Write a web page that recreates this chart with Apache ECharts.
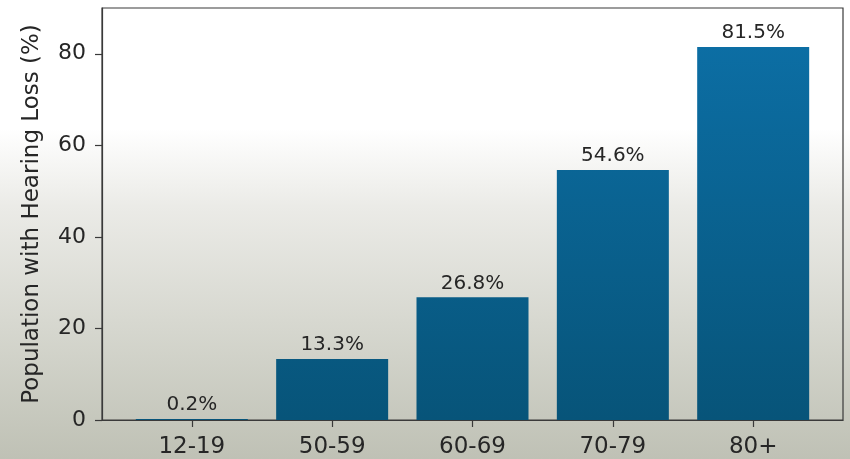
<!DOCTYPE html>
<html>
<head>
<meta charset="utf-8">
<script src="https://cdn.jsdelivr.net/npm/echarts@6/dist/echarts.min.js"></script>
<style>
html,body{margin:0;padding:0;}
#chart{width:850px;height:459px;}
</style>
</head>
<body>
<div id="chart"></div>
<script>
const categories = ['12-19', '50-59', '60-69', '70-79', '80+'];
const values = [0.2, 13.3, 26.8, 54.6, 81.5];
const yTicks = [0, 20, 40, 60, 80];
const yAxisTitle = 'Population with Hearing Loss (%)';

const chart = echarts.init(document.getElementById('chart'));
const font = 'DejaVu Sans';
const option = {
  animation: false,
  backgroundColor: new echarts.graphic.LinearGradient(0, 0, 0, 1, [
    { offset: 0, color: '#ffffff' },
    { offset: 0.28, color: '#ffffff' },
    { offset: 0.45, color: '#ebebe7' },
    { offset: 0.7, color: '#d7d8d0' },
    { offset: 1, color: '#bfc1b5' }
  ]),
  grid: {
    left: 102, right: 7, top: 8, bottom: 39,
    show: true, borderColor: '#3a3a3a', borderWidth: 1.2, backgroundColor: 'transparent'
  },
  xAxis: {
    type: 'value', min: -0.64, max: 4.64,
    splitLine: { show: false },
    axisLine: { show: true, onZero: false, lineStyle: { color: '#3a3a3a', width: 1.2 } },
    axisTick: { show: true, length: 7, customValues: categories.map((c, i) => i), lineStyle: { color: '#3a3a3a', width: 1.2 } },
    axisLabel: {
      customValues: categories.map((c, i) => i),
      formatter: v => categories[Math.round(v)],
      fontFamily: font, fontSize: 23, color: '#262626', margin: 16
    }
  },
  yAxis: {
    type: 'value', min: 0, max: 90,
    splitLine: { show: false },
    axisLine: { show: true, onZero: false, lineStyle: { color: '#3a3a3a', width: 1.2 } },
    axisTick: { show: true, length: 7, customValues: yTicks, lineStyle: { color: '#3a3a3a', width: 1.2 } },
    axisLabel: { customValues: yTicks, fontFamily: font, fontSize: 22, color: '#262626', margin: 16 },
    name: yAxisTitle, nameLocation: 'middle', nameGap: 58,
    nameTextStyle: { fontFamily: font, fontSize: 23, color: '#262626' }
  },
  series: [{
    type: 'bar',
    data: values.map((v, i) => [i, v]),
    barWidth: 112,
    itemStyle: {
      color: new echarts.graphic.LinearGradient(0, 44, 0, 420, [
        { offset: 0, color: '#0c6ea4' },
        { offset: 1, color: '#075479' }
      ], true)
    },
    label: {
      show: true, position: 'top', distance: 4,
      formatter: p => p.value[1].toFixed(1) + '%',
      fontFamily: font, fontSize: 20, color: '#262626'
    }
  }]
};
chart.setOption(option);
</script>
</body>
</html>
